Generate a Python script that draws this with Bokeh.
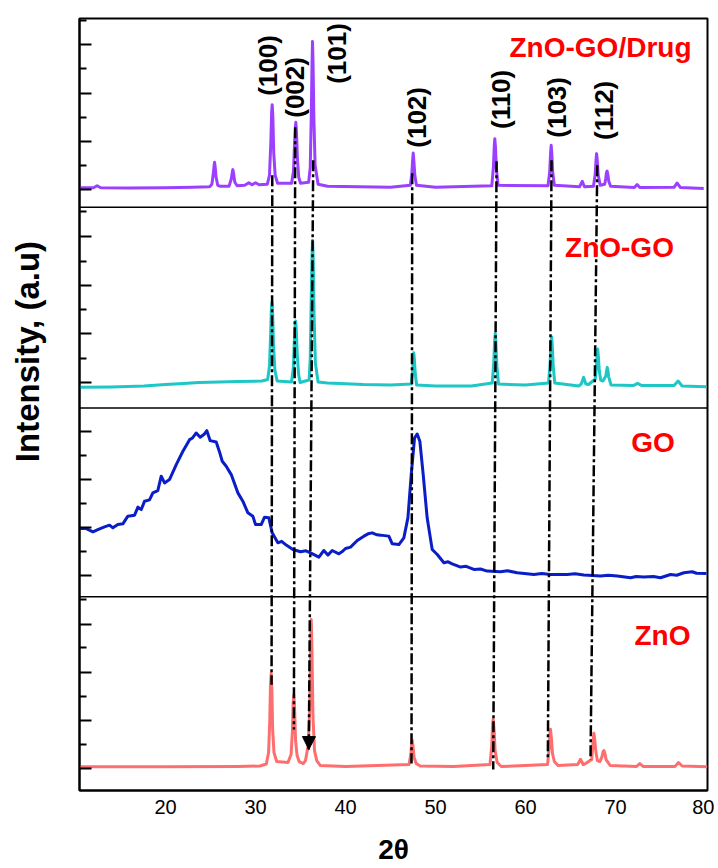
import math
from bokeh.plotting import figure
from bokeh.layouts import row
from bokeh.models import (Range1d, FixedTicker, Span, Arrow, NormalHead,
                          CustomJSTickFormatter, ColumnDataSource)
from bokeh.embed import file_html
from bokeh.resources import INLINE
from bokeh.core.properties import value

# ---------------- data (intensity in a.u. above each panel's floor) ----------------
zno_x = [10.45, 20, 28, 30.5, 31.2, 31.45, 31.58, 31.66, 31.74, 31.82, 31.9, 32.05, 32.35,
         33.6, 33.95, 34.1, 34.18, 34.26, 34.34, 34.45, 34.62, 34.85, 35.3, 35.55, 35.85,
         36.02, 36.12, 36.19, 36.27, 36.38, 36.55, 36.8, 37.2,
         40, 47.05, 47.25, 47.34, 47.41, 47.5, 47.62, 47.85, 48.3, 52, 56.05, 56.25, 56.34,
         56.41, 56.5, 56.62, 56.85, 57.3, 62.45, 62.62, 62.71, 62.78, 62.88, 63.0, 63.2, 63.6,
         65.8, 66.11, 66.4, 66.67, 67.35, 67.5, 67.59, 67.68, 67.8, 67.98, 68.26, 68.5, 68.62,
         68.7, 68.8, 68.95, 69.4, 72.3, 72.7, 73.1, 76.6, 77.0, 77.4, 80.2]
zno_y = [23.7, 23.8, 24, 24.5, 26.5, 38, 70, 105, 117.3, 100, 62, 38, 29,
         28, 36, 60, 88, 95.7, 82, 50, 35, 29, 27, 30, 45,
         80, 140, 171.3, 140, 75, 40, 30, 25,
         24, 26, 36, 46, 50.7, 44, 33, 27, 24.5, 24, 26, 45, 66,
         71.3, 62, 40, 28, 24, 26, 42, 57, 61.3, 52, 37, 29, 25,
         26, 31.3, 26, 27, 31, 48, 57.3, 52, 40, 30, 29, 34, 39,
         40, 38, 31, 25, 24, 27, 24, 24, 28, 24.5, 23.7]

go_x = [10.44, 11.19, 11.93, 12.48, 13.22, 13.78, 14.15, 14.7, 15.26, 15.81, 16.56, 16.93,
        17.3, 17.67, 18.22, 18.59, 19.14, 19.52, 19.89, 20.44, 21.19, 21.93, 22.67, 23.0,
        23.41, 23.85, 24.33, 24.59, 24.96, 25.63, 26.0, 26.3, 26.74, 27.3, 28.04, 28.59,
        29.15, 29.7, 30.0, 30.63, 31.0, 31.48, 31.85, 32.48, 32.9, 33.41, 34.15, 35.0, 35.6,
        36.11, 37.04, 37.59, 38.04, 38.52, 39.26, 39.6, 40.0, 40.56, 41.3, 42.04, 42.5,
        42.96, 43.5, 43.89, 44.81, 45.19, 45.93, 46.48, 46.93, 47.3, 47.67, 47.96, 48.26,
        48.63, 49.07, 49.63, 50.19, 50.93, 51.4, 51.85, 52.78, 53.4, 54.26, 55.0, 55.74,
        57.22, 58.0, 59.07, 60.93, 61.8, 62.78, 64.63, 65.5, 66.48, 68.33, 69.2, 70.19,
        71.67, 72.3, 73.15, 74.2, 75.0, 76.11, 76.8, 77.59, 78.52, 79.0, 80.1]
go_y = [68.3, 68.3, 65, 67.3, 70, 71.7, 69, 72.3, 73, 80.7, 81.7, 89.7,
        87.3, 95.7, 97, 104, 106.3, 120.7, 114, 117.3, 132.3, 145.7, 157.3, 159,
        164, 159.7, 163, 166.3, 156.3, 155, 145, 135.7, 130.7, 122.3, 104, 95.7,
        84, 80.7, 72.3, 72.3, 79.7, 79, 64, 54, 55.5, 51.7, 47.3, 45, 46,
        44, 39.7, 46.3, 41.7, 46.3, 43, 45, 48.3, 49.7, 56.3, 60.7, 63,
        64, 62, 61.7, 60.7, 53, 52.3, 59, 79, 122.3, 159, 163, 155.7,
        122.3, 79, 47.3, 42.3, 34, 35, 33, 29.7, 30.5, 27.3, 27.8, 25.7,
        25, 26, 24, 22.3, 23.2, 22.3, 22.3, 23, 21.7, 20.7, 21.5, 20.7,
        19, 20.3, 19.7, 20.2, 19, 22.3, 21.5, 24, 25, 23.5, 23.3]

znogo_x = [10.45, 14, 17.6, 20, 22, 23.7, 26, 28, 30.7, 31.35, 31.55, 31.68, 31.76, 31.83,
           31.9, 32.0, 32.15, 32.4, 34.0, 34.2, 34.3, 34.39, 34.46, 34.53, 34.63, 34.78, 34.95,
           35.95, 36.08, 36.2, 36.28, 36.34, 36.41, 36.5, 36.65, 36.95, 38, 42, 45, 47.3,
           47.45, 47.53, 47.58, 47.64, 47.75, 47.9, 50, 54, 56.3, 56.47, 56.57, 56.64, 56.71,
           56.82, 57.0, 60, 62.55, 62.73, 62.83, 62.9, 62.97, 63.08, 63.25, 65.9, 66.2, 66.45,
           66.7, 67.0, 67.75, 67.88, 67.96, 68.02, 68.09, 68.2, 68.35, 68.6, 68.92, 69.02,
           69.08, 69.15, 69.25, 69.5, 72, 72.45, 72.9, 76.5, 76.95, 77.4, 80.1]
znogo_y = [20.7, 21, 22, 23.5, 24.5, 25.5, 26, 26.5, 27, 28.5, 42, 75, 100, 106,
           95, 62, 38, 27, 26, 40, 65, 82, 87, 78, 55, 34, 25.5,
           28, 50, 115, 155, 168, 150, 95, 45, 26, 25, 23.5, 23, 24,
           36, 50, 55.3, 50, 34, 23, 22, 22, 25, 45, 68, 74.7, 65,
           42, 24, 23, 25, 45, 66, 71.3, 63, 42, 25, 22, 24, 30.7,
           24, 23.5, 29, 42, 55, 59, 52, 37, 28, 27, 32, 38,
           40.7, 38, 31, 23, 22.5, 24.7, 22.5, 22.5, 27, 22, 21.3]

drug_x = [10.45, 12.0, 12.4, 12.8, 16, 20, 23, 24.9, 25.15, 25.3, 25.4, 25.45, 25.52,
          25.62, 25.8, 26.1, 27.05, 27.3, 27.42, 27.48, 27.56, 27.7, 27.95, 28.8, 29.26,
          29.6, 30.0, 30.4, 31.3, 31.55, 31.7, 31.79, 31.85, 31.92, 32.02, 32.18, 32.45,
          34.0, 34.22, 34.34, 34.42, 34.48, 34.55, 34.66, 34.8, 35.0, 35.9, 36.08, 36.2,
          36.28, 36.33, 36.39, 36.48, 36.62, 36.95, 38, 45, 47.2, 47.36, 47.46, 47.52, 47.59,
          47.7, 47.88, 50, 56.25, 56.43, 56.53, 56.59, 56.66, 56.77, 56.95, 62.5, 62.69,
          62.79, 62.85, 62.92, 63.02, 63.2, 66.0, 66.3, 66.55, 67.55, 67.74, 67.84, 67.9,
          67.97, 68.08, 68.3, 68.8, 68.92, 69.0, 69.07, 69.14, 69.25, 69.45, 72.1, 72.4, 72.7,
          76.5, 76.85, 77.2, 79.8]
drug_y = [19.5, 19.5, 21.5, 19.5, 19.2, 19.5, 20, 20.5, 23, 33, 42, 45, 40,
          30, 22, 21, 21, 28, 35, 37.7, 34, 25, 21.5, 22, 24.5,
          22.5, 24.5, 22.5, 23, 32, 65, 95, 102.7, 92, 55, 32, 24,
          24, 36, 65, 80, 85, 75, 48, 30, 24, 25, 40, 95,
          145, 166, 145, 90, 42, 23, 21, 20, 22, 33, 48, 54.3, 47,
          32, 22, 20, 21.5, 40, 62, 68.7, 60, 38, 22, 21.5, 36,
          55, 62, 54, 35, 22, 20.5, 26, 20.5, 21, 33, 48, 53.7,
          47, 32, 22, 23, 29, 35, 36.3, 33, 26, 21, 19.8, 22.7, 19.8,
          20, 24.3, 19.8, 18.7]

series_x = [zno_x, go_x, znogo_x, drug_x]
series_y = [zno_y, go_y, znogo_y, drug_y]
panel_names = ["ZnO", "GO", "ZnO-GO", "ZnO-GO/Drug"]
panel_colors = ["#FF6E6E", "#0A1EC8", "#1EC6C6", "#9B40FF"]

# Miller indices and their guide lines
hkl = ["(100)", "(002)", "(101)", "(102)", "(110)", "(103)", "(112)"]
hkl_top_x = [31.86, 34.41, 36.41, 47.41, 56.78, 62.89, 67.97]
hkl_bot_x = [31.78, 34.26, 35.92, 47.33, 56.41, 62.48, 67.22]
hkl_top_y = [616, 664, 631, 618, 630, 631, 626]
hkl_bot_y = [106, 61, 41, 27, 21, 32, 31]
hkl_label_x = [31.44, 34.44, 39.0, 47.97, 57.22, 63.52, 68.67]
hkl_label_y = [726, 704, 738, 674, 692, 684, 681]

x_ticks = [20, 30, 40, 50, 60, 70, 80]
y_title = "Intensity, (a.u)"

# ---------------- layout constants ----------------
panel_floor = [0, 194, 383, 584]
y_top = 773
name_x = [75.22, 74.17, 70.44, 68.33]
name_y = [155.3, 348, 543.3, 744.3]
y_major = [22, 70.3, 118.3, 166.7, 215.3, 263.3, 311.3, 359.3,
           408.3, 457.3, 505.7, 554.3, 602, 650, 698, 747]
y_minor = [46, 94.3, 142.7, 191, 239.3, 287.3, 335.3,
           433, 481.7, 530, 579.3, 626, 674, 723, 771]
H = 867
TITLE_W = 56
title_pos = (27, 493)

FONT = "Liberation Sans"

# ---- narrow strip that carries the y-axis title ----
t = figure(width=TITLE_W, height=H, output_backend="svg", toolbar_location=None,
           x_range=Range1d(0, TITLE_W), y_range=Range1d(0, H),
           x_axis_location=None, y_axis_location=None,
           min_border_left=0, min_border_right=0, min_border_top=0, min_border_bottom=0)
t.grid.visible = False
t.outline_line_color = None
t.background_fill_color = "white"
t.border_fill_color = "white"
t.text(x=[title_pos[0]], y=[title_pos[1]], text=[y_title], angle=math.pi / 2,
       text_align="center", text_baseline="middle", text_font=value(FONT),
       text_font_style="bold", text_font_size="33px", text_color="black")

# ---- main chart ----
p = figure(width=714 - TITLE_W, height=H, output_backend="svg", toolbar_location=None,
           x_range=Range1d(10.44, 80.22), y_range=Range1d(0, y_top),
           min_border_left=79 - TITLE_W, min_border_right=7, min_border_top=18,
           min_border_bottom=76, x_axis_label="2θ")
p.grid.visible = False
p.outline_line_color = "black"
p.outline_line_width = 2
p.background_fill_color = "white"
p.border_fill_color = "white"

# x axis
p.xaxis.ticker = FixedTicker(ticks=x_ticks)
p.xaxis.major_tick_in = 0
p.xaxis.major_tick_out = 0
p.xaxis.minor_tick_in = 0
p.xaxis.minor_tick_out = 0
p.xaxis.major_label_standoff = 9
p.xaxis.major_label_text_font = FONT
p.xaxis.major_label_text_font_size = "20px"
p.xaxis.major_label_text_color = "black"
p.xaxis.axis_line_width = 2
p.xaxis.axis_label_text_font = FONT
p.xaxis.axis_label_text_font_style = "bold"
p.xaxis.axis_label_text_font_size = "28px"
p.xaxis.axis_label_text_color = "black"
p.xaxis.axis_label_standoff = 17

# y axis (ticks only)
p.yaxis.ticker = FixedTicker(ticks=y_major, minor_ticks=y_minor)
p.yaxis.formatter = CustomJSTickFormatter(code="return ''")
p.yaxis.major_label_standoff = 0
p.yaxis.major_tick_in = 12
p.yaxis.major_tick_out = 0
p.yaxis.minor_tick_in = 7
p.yaxis.minor_tick_out = 0
p.yaxis.major_tick_line_width = 2
p.yaxis.minor_tick_line_width = 2
p.yaxis.axis_line_width = 2

# panel separators
for f in panel_floor[1:]:
    p.add_layout(Span(location=f, dimension="width", line_color="black", line_width=1.5))

# curves
for xs, ys, floor, col in zip(series_x, series_y, panel_floor, panel_colors):
    p.line(xs, [yv + floor for yv in ys], line_color=col, line_width=3,
           line_join="round")

# guide lines
seg = ColumnDataSource(dict(x0=hkl_top_x, y0=hkl_top_y, x1=hkl_bot_x, y1=hkl_bot_y))
p.segment(x0="x0", y0="y0", x1="x1", y1="y1", source=seg, line_color="black",
          line_width=2.5, line_dash="11 3 3 3")

# arrow head at the (101) line
p.add_layout(Arrow(end=NormalHead(size=13, fill_color="black", line_color="black"),
                   x_start=hkl_bot_x[2] + 0.03, y_start=hkl_bot_y[2] + 30,
                   x_end=hkl_bot_x[2], y_end=hkl_bot_y[2], line_alpha=0))

# Miller labels
p.text(x=hkl_label_x, y=hkl_label_y, text=hkl, angle=math.pi / 2,
       text_align="center", text_baseline="middle", text_font=value(FONT),
       text_font_style="bold", text_font_size="26px", text_color="black")

# panel names
p.text(x=name_x, y=name_y, text=panel_names, text_align="center",
       text_baseline="alphabetic", text_font=value(FONT), text_font_style="bold",
       text_font_size="28px", text_color="#FF0000")

layout = row(t, p, spacing=0)
open("out.html", "w").write(file_html(layout, INLINE))
